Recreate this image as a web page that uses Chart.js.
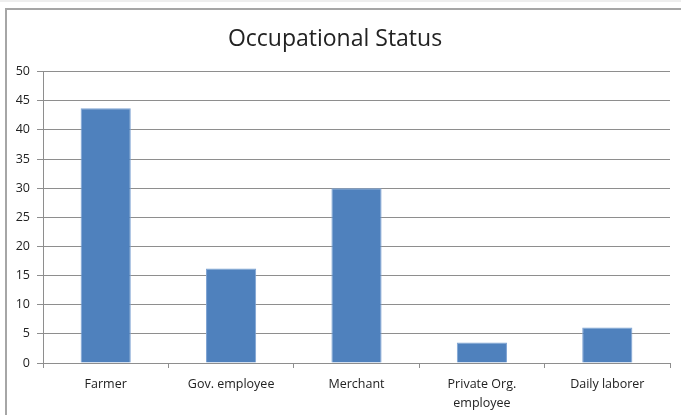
<!DOCTYPE html>
<html lang="en">
  <head>
    <meta charset="UTF-8" />
    <script src="https://cdn.jsdelivr.net/npm/chart.js"></script>
    <title>Occupational Status</title>
    <style>
      body { margin: 0; background: #fff; }
      #frame { position: absolute; left: 0; top: 0; width: 681px; height: 415px; border-top: 2px solid #eeeeee; box-sizing: border-box; }
      #box { position: absolute; left: 5px; top: 8px; width: 676px; height: 407px; border-top: 2px solid #a6a6a6; border-left: 2px solid #a6a6a6; box-sizing: border-box; }
      #wrap { position: absolute; left: 0; top: 0; width: 681px; height: 415px; }
    </style>
  </head>
  <body>
    <div id="frame"></div>
    <div id="box"></div>
    <div id="wrap">
      <canvas id="myChart" width="681" height="415"></canvas>
    </div>
    <script>

      // data
      const categories = ["Farmer", "Gov. employee", "Merchant", ["Private Org.", "employee"], "Daily laborer"];
      const percents = [43.7, 16.2, 30.0, 3.5, 6.1];
      const yTicks = [0, 5, 10, 15, 20, 25, 30, 35, 40, 45, 50];

      const gridColor = "#8e8e8e";
      const textColor = "#222222";

      const config = {
        type: "bar",
        data: {
          labels: categories,
          datasets: [
            {
              label: "Occupational Status",
              backgroundColor: "#4f81bd",
              borderColor: "#7ea3d3",
              borderWidth: 1,
              data: percents,
              categoryPercentage: 1,
              barPercentage: 0.4,
            },
          ],
        },
        options: {
          responsive: false,
          animation: false,
          layout: { padding: { left: 0, right: 11, top: 26, bottom: 0 } },
          plugins: {
            legend: { display: false },
            tooltip: { enabled: false },
            title: {
              display: true,
              text: "Occupational Status",
              color: textColor,
              font: { family: "Open Sans", size: 23, weight: "normal" },
              padding: { top: 0, bottom: 18 },
            },
          },
          scales: {
            x: {
              grid: { drawOnChartArea: false, color: gridColor, tickLength: 5, offset: true },
              border: { color: gridColor, width: 1 },
              ticks: { color: textColor, font: { family: "Open Sans", size: 12.5, lineHeight: 1.5 }, padding: 7, maxRotation: 0, autoSkip: false },
              afterFit: (s) => { s.height = 52; },
            },
            y: {
              min: 0,
              max: 50,
              afterBuildTicks: (s) => { s.ticks = yTicks.map((v) => ({ value: v })); },
              grid: { color: gridColor, tickLength: 6 },
              border: { color: gridColor, width: 1 },
              ticks: { color: textColor, font: { family: "Open Sans", size: 12.5 }, padding: 7 },
              afterFit: (s) => { s.width = 43; },
            },
          },
        },
      };
      var myChart = new Chart(document.getElementById("myChart"), config);

    </script>
  </body>
</html>
